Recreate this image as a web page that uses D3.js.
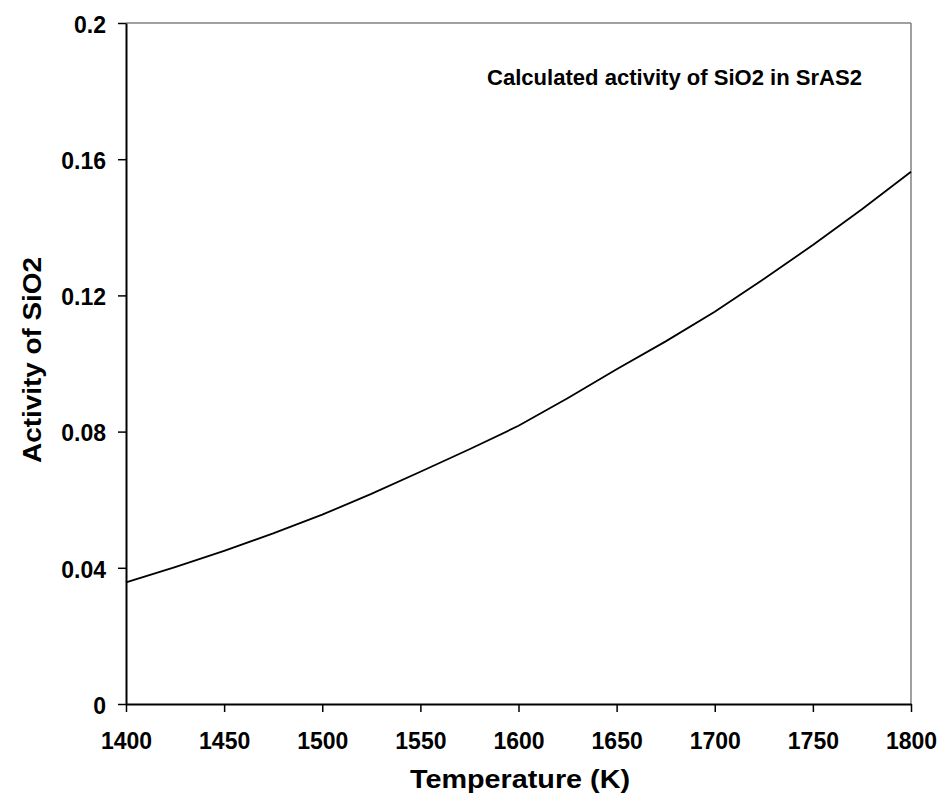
<!DOCTYPE html>
<html lang="en">
<head>
<meta charset="utf-8">
<title>Calculated activity of SiO2 in SrAS2</title>
<script src="https://cdn.jsdelivr.net/npm/d3@7"></script>
<style>
  body { margin: 0; background: #fff; }
  svg text { font-family: Arial, "Liberation Sans", sans-serif; font-weight: bold; fill: #000; }
</style>
</head>
<body>
<div id="chart"></div>
<script>
// temperature (K) and calculated SiO2 activity
var temps = [1400, 1425, 1450, 1475, 1500, 1525, 1550, 1575, 1600,
             1625, 1650, 1675, 1700, 1725, 1750, 1775, 1800];
var activity = [0.0357, 0.0402, 0.0450, 0.0501, 0.0556, 0.0617, 0.0682, 0.0748, 0.0817,
                0.0898, 0.0983, 0.1065, 0.1152, 0.1248, 0.1348, 0.1453, 0.1563];
var xTicks = [1400, 1450, 1500, 1550, 1600, 1650, 1700, 1750, 1800];
var yTicks = [0, 0.04, 0.08, 0.12, 0.16, 0.2];

var w = 942, h = 805;
var plotLeft = 126, plotRight = 911, plotTop = 23, plotBottom = 704;

var svg = d3.select("#chart").append("svg")
    .attr("width", w)
    .attr("height", h);

var x = d3.scaleLinear().domain([1400, 1800]).range([plotLeft, plotRight]);
var y = d3.scaleLinear().domain([0, 0.2]).range([plotBottom, plotTop]);

// frame: grey top and right edges
svg.append("line")
    .attr("x1", plotLeft).attr("x2", plotRight).attr("y1", plotTop).attr("y2", plotTop)
    .attr("stroke", "#808080").attr("stroke-width", 1.5);
svg.append("line")
    .attr("x1", plotRight).attr("x2", plotRight).attr("y1", plotTop).attr("y2", plotBottom)
    .attr("stroke", "#808080").attr("stroke-width", 1.5);

// axes
var xAxis = svg.append("g")
    .attr("transform", "translate(0," + plotBottom + ")")
    .call(d3.axisBottom(x).tickValues(xTicks).tickFormat(d3.format("d"))
        .tickSizeInner(8).tickSizeOuter(0).tickPadding(37));
var yAxis = svg.append("g")
    .attr("transform", "translate(" + plotLeft + ",0)")
    .call(d3.axisLeft(y).tickValues(yTicks).tickFormat(function(d) { return String(+d.toFixed(2)); })
        .tickSizeInner(8).tickSizeOuter(0).tickPadding(12));

[xAxis, yAxis].forEach(function(g) {
  g.attr("font-family", null);
  g.select(".domain").attr("stroke", "#000").attr("stroke-width", 2);
  g.selectAll(".tick line").attr("stroke", "#000").attr("stroke-width", 1.5);
  g.selectAll(".tick text").attr("font-size", 23);
});
xAxis.selectAll(".tick text").attr("dy", 0);
yAxis.selectAll(".tick text").attr("dy", "0.4em");

// the curve
var line = d3.line()
    .x(function(d, i) { return x(temps[i]); })
    .y(function(d) { return y(d); });

svg.append("path")
    .datum(activity)
    .attr("d", line)
    .attr("fill", "none")
    .attr("stroke", "#000")
    .attr("stroke-width", 1.8);

// labels
svg.append("text")
    .attr("x", 487).attr("y", 85)
    .attr("font-size", 22)
    .attr("textLength", 375)
    .attr("lengthAdjust", "spacingAndGlyphs")
    .text("Calculated activity of SiO2 in SrAS2");

svg.append("text")
    .attr("x", 410).attr("y", 788)
    .attr("font-size", 26)
    .attr("textLength", 220)
    .attr("lengthAdjust", "spacingAndGlyphs")
    .text("Temperature (K)");

svg.append("text")
    .attr("transform", "translate(41,463) rotate(-90)")
    .attr("font-size", 26)
    .attr("textLength", 206)
    .attr("lengthAdjust", "spacingAndGlyphs")
    .text("Activity of SiO2");
</script>
</body>
</html>
